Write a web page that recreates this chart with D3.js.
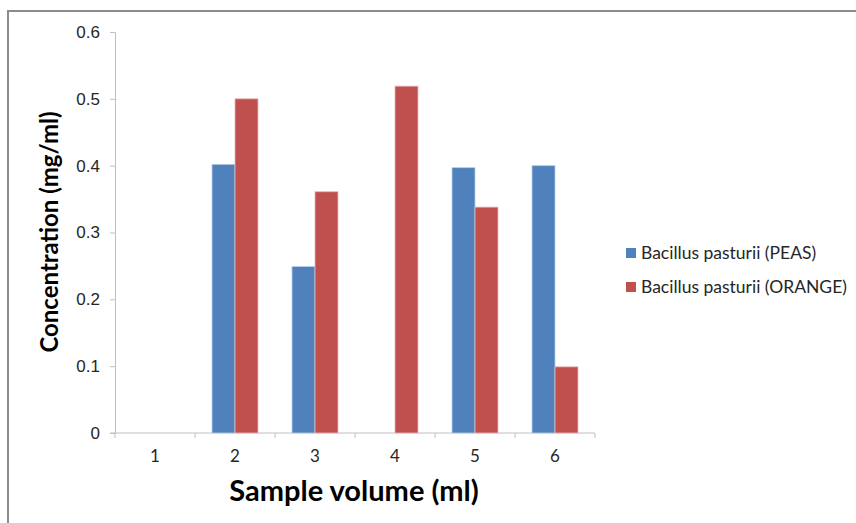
<!DOCTYPE html>
<html>
<head>
<meta charset="utf-8">
<script src="https://cdn.jsdelivr.net/npm/d3@7"></script>
<style>
  body { margin: 0; background: #fff; }
  svg { display: block; font-family: Lato, "Open Sans", sans-serif; }
</style>
</head>
<body>
<div id="chart"></div>
<script>
// data
var categories = ['1', '2', '3', '4', '5', '6'];
var peas   = [0, 0.402, 0.249, 0, 0.397, 0.400];
var orange = [0, 0.500, 0.361, 0.519, 0.338, 0.099];
var series_names = ['Bacillus pasturii (PEAS)', 'Bacillus pasturii (ORANGE)'];
var y_ticks = [0, 0.1, 0.2, 0.3, 0.4, 0.5, 0.6];

const W = 856, H = 523;
const colors = ['#4f81bd', '#c0504d'];
const outline = ['#b9cde5', '#e6b9b8'];

var rows = categories.map(function(c, i){
    return { cat: c, values: [peas[i], orange[i]] }
});

var svg = d3.select('#chart').append('svg')
    .attr('width', W)
    .attr('height', H);

// chart frame
svg.append('rect')
    .attr('x', 8).attr('y', 11)
    .attr('width', W + 10).attr('height', H + 10)
    .attr('fill', 'none')
    .attr('stroke', '#8c8c8c')
    .attr('stroke-width', 2);

var x0 = d3.scaleBand().domain(categories).range([115, 595]);
var x1 = d3.scaleBand().domain([0, 1]).range([0, x0.bandwidth()]).paddingOuter(0.74);
var y = d3.scaleLinear().domain([0, 0.6]).range([433, 32]);

// y axis
var yAxis = svg.append('g')
    .attr('transform', 'translate(115,0)')
    .call(d3.axisLeft(y).tickValues(y_ticks).tickSize(5).tickPadding(10)
        .tickFormat(d => d == 0 ? '0' : d3.format('.1f')(d)));
yAxis.select('.domain').attr('stroke', '#bfbfbf').attr('d', 'M-5,32.5H0.5V433');
yAxis.selectAll('.tick line').attr('stroke', '#bfbfbf');
yAxis.selectAll('.tick text').attr('fill', '#262626').style('font-size', '17px');

// x axis: ticks sit at category boundaries
var xAxis = svg.append('g').attr('transform', 'translate(0,433)');
xAxis.append('line')
    .attr('x1', 110).attr('x2', 595)
    .attr('stroke', '#bfbfbf');
xAxis.selectAll('line.bound')
    .data(categories.concat(['end']))
    .enter()
    .append('line')
    .attr('class', 'bound')
    .attr('x1', (d, i) => i < categories.length ? x0(d) : x0.range()[1])
    .attr('x2', (d, i) => i < categories.length ? x0(d) : x0.range()[1])
    .attr('y1', 0).attr('y2', 5)
    .attr('stroke', '#bfbfbf');
xAxis.selectAll('text')
    .data(categories)
    .enter()
    .append('text')
    .attr('x', d => x0(d) + x0.bandwidth() / 2)
    .attr('y', 29)
    .attr('text-anchor', 'middle')
    .attr('fill', '#262626')
    .style('font-size', '17px')
    .text(d => d);

// bars
var group = svg.selectAll('g.cat')
    .data(rows)
    .enter()
    .append('g')
    .attr('class', 'cat')
    .attr('transform', d => 'translate(' + x0(d.cat) + ',0)');

group.selectAll('rect')
    .data(d => d.values.filter(v => v > 0).map(v => ({ s: d.values.indexOf(v), v: v })))
    .enter()
    .append('rect')
    .attr('x', d => x1(d.s))
    .attr('y', d => y(d.v))
    .attr('width', x1.bandwidth())
    .attr('height', d => y(0) - y(d.v))
    .attr('fill', d => colors[d.s])
    .attr('stroke', d => outline[d.s])
    .attr('stroke-width', 0.8);

// axis titles
svg.append('text')
    .attr('transform', 'translate(58,232) rotate(-90)')
    .attr('text-anchor', 'middle')
    .style('font-size', '24px')
    .style('font-weight', 'bold')
    .attr('fill', '#000')
    .text('Concentration (mg/ml)');

svg.append('text')
    .attr('x', 354).attr('y', 501)
    .attr('text-anchor', 'middle')
    .style('font-size', '29px')
    .style('font-weight', 'bold')
    .attr('fill', '#000')
    .text('Sample volume (ml)');

// legend
var legend = svg.selectAll('g.legend')
    .data(series_names)
    .enter()
    .append('g')
    .attr('class', 'legend')
    .attr('transform', (d, i) => 'translate(626,' + (248 + i * 34) + ')');

legend.append('rect')
    .attr('width', 10).attr('height', 10)
    .attr('fill', (d, i) => colors[i]);

legend.append('text')
    .attr('x', 15).attr('y', 11)
    .attr('fill', '#262626')
    .style('font-size', '17.5px')
    .text(d => d);
</script>
</body>
</html>
